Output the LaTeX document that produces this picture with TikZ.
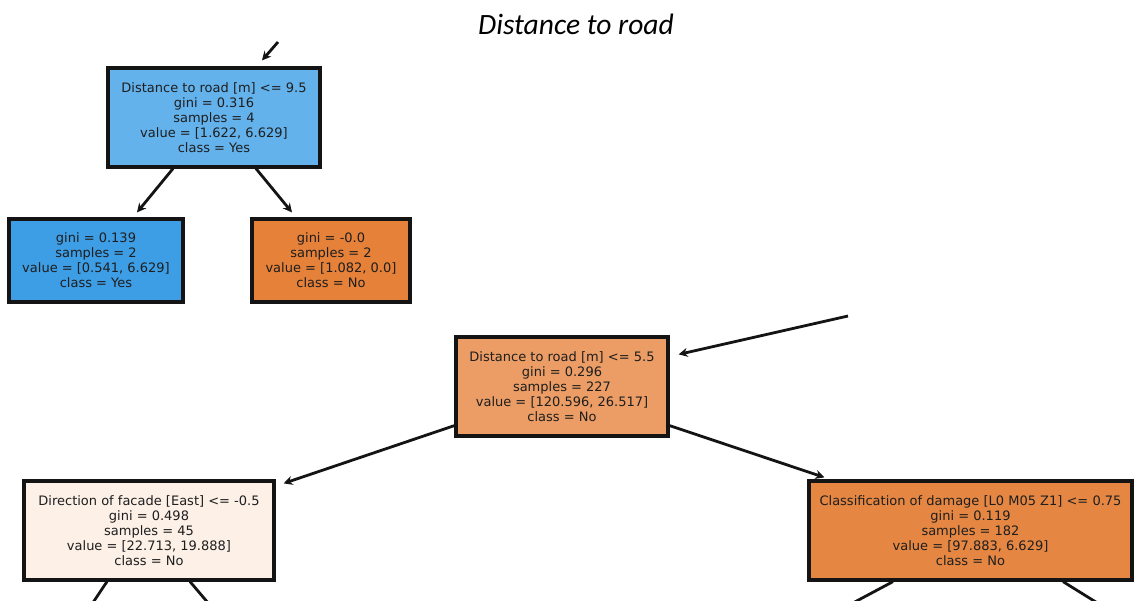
\documentclass[tikz,border=0pt]{standalone}
\usepackage{fontspec}
\setmainfont{DejaVu Sans}
\newfontfamily\titlefont{Carlito}
\usetikzlibrary{arrows.meta,calc}
\definecolor{cTop}{RGB}{100,178,236}
\definecolor{cBlue}{RGB}{61,158,229}
\definecolor{cOrange}{RGB}{229,129,57}
\definecolor{cMid}{RGB}{235,157,101}
\definecolor{cPale}{RGB}{252,240,231}
\definecolor{cBR}{RGB}{229,135,67}
\definecolor{cText}{RGB}{30,30,30}
\definecolor{cLine}{RGB}{20,20,20}
\tikzset{
  treenode/.style={draw=cLine, line width=3.2pt, align=center, text=cText,
    font=\fontsize{13}{15}\selectfont, inner sep=0pt},
  arr/.style={draw=cLine, line width=2.8pt, -{Stealth[length=9pt,width=9pt]}},
  ln/.style={draw=cLine, line width=2.8pt},
}
\begin{document}
\begin{tikzpicture}[x=1pt,y=-1pt]
\useasboundingbox (0,0) rectangle (1135,600);
\clip (0,0) rectangle (1135,600);
\node[font=\titlefont\itshape\fontsize{29.5}{31}\selectfont] (title) at (576,24) {Distance to road};

\node[treenode, fill=cTop, minimum width=212pt, minimum height=99pt] (top) at (214,117.5)
  {Distance to road [m] <= 9.5\\gini = 0.316\\samples = 4\\value = [1.622, 6.629]\\class = Yes};
\node[treenode, fill=cBlue, minimum width=174pt, minimum height=83pt] (lc) at (96,260.5)
  {gini = 0.139\\samples = 2\\value = [0.541, 6.629]\\class = Yes};
\node[treenode, fill=cOrange, minimum width=158pt, minimum height=83pt] (rc) at (331,260.5)
  {gini = -0.0\\samples = 2\\value = [1.082, 0.0]\\class = No};
\node[treenode, fill=cMid, minimum width=212pt, minimum height=99pt] (mid) at (562,386.5)
  {Distance to road [m] <= 5.5\\gini = 0.296\\samples = 227\\value = [120.596, 26.517]\\class = No};
\node[treenode, fill=cPale, minimum width=250pt, minimum height=99pt] (bl) at (149,530.5)
  {Direction of facade [East] <= -0.5\\gini = 0.498\\samples = 45\\value = [22.713, 19.888]\\class = No};
\node[treenode, fill=cBR, minimum width=323pt, minimum height=99pt] (br) at (970.5,530.5)
  {Classification of damage [L0 M05 Z1] <= 0.75\\gini = 0.119\\samples = 182\\value = [97.883, 6.629]\\class = No};

\coordinate (inTop) at (278,42);
\coordinate (inMid) at (848,316);
\coordinate (bl1) at (92,604);
\coordinate (bl2) at (209,604);
\coordinate (br1) at (851,604);
\coordinate (br2) at (1099,604);

\draw[arr] (inTop) -- ([xshift=48pt,yshift=6pt]top.north);
\draw[arr] ([xshift=-41pt]top.south) -- ([xshift=41pt,yshift=5pt]lc.north);
\draw[arr] ([xshift=42pt]top.south) -- ([xshift=-39pt,yshift=5pt]rc.north);
\draw[arr] (inMid) -- ([xshift=9pt,yshift=-19pt]mid.north east);
\draw[arr] ([yshift=12pt]mid.south west) -- ([xshift=8pt,yshift=-4pt]bl.north east);
\draw[arr] ([yshift=12pt]mid.south east) -- ([xshift=17pt,yshift=2pt]br.north west);
\draw[ln] ([xshift=-42pt]bl.south) -- (bl1);
\draw[ln] ([xshift=41pt]bl.south) -- (bl2);
\draw[ln] ([xshift=-77.5pt]br.south) -- (br1);
\draw[ln] ([xshift=92.5pt]br.south) -- (br2);
\end{tikzpicture}
\end{document}
